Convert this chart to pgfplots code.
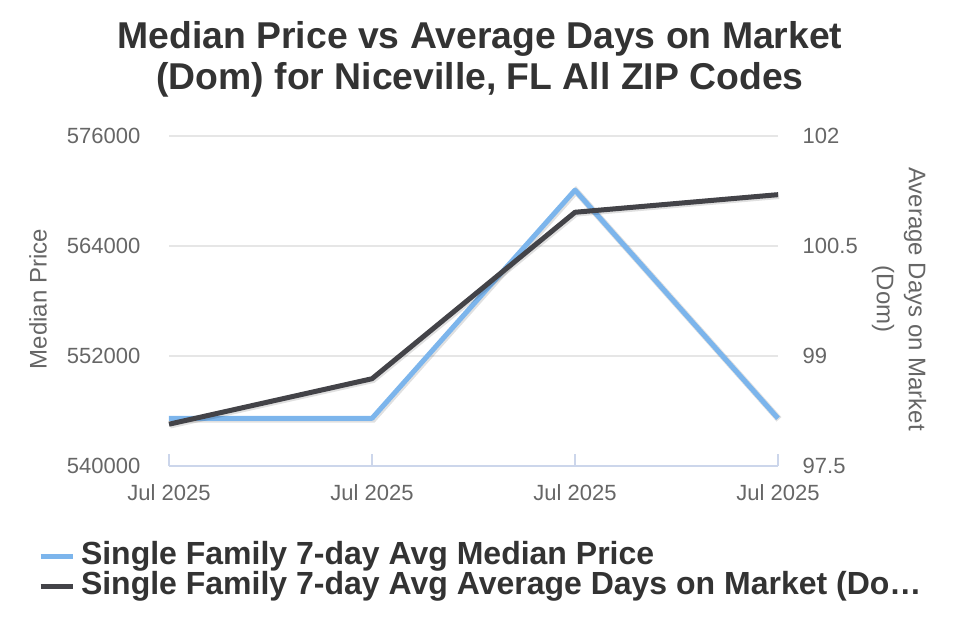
\documentclass[border=0pt]{standalone}
\usepackage{pgfplots}
\pgfplotsset{compat=1.18}
\usepackage{fontspec}
\setmainfont{Liberation Sans}
\definecolor{hcblue}{HTML}{7CB5EC}
\definecolor{hcdark}{HTML}{434348}
\definecolor{hcgrid}{HTML}{E6E6E6}
\definecolor{hcaxis}{HTML}{CCD6EB}
\definecolor{hclabel}{HTML}{666666}
\definecolor{hctitle}{HTML}{333333}
\begin{document}
\begin{tikzpicture}
\path[use as bounding box] (0pt,0pt) rectangle (720pt,480pt);
\pgfplotsset{
  common/.style={
    at={(126.75pt,130.5pt)}, anchor=south west,
    scale only axis, width=456.75pt, height=247.5pt,
    xmin=0, xmax=3,
    xtick={0,1,2,3},
    /pgf/number format/assume math mode=true,
    /pgf/number format/fixed,
    /pgf/number format/precision=1,
    ticklabel style={font=\fontsize{16.5}{19}\selectfont, text=hclabel},
    scaled y ticks=false,
    /pgf/number format/1000 sep={},
    clip=false,
  }
}
\begin{axis}[common,
  ymin=540000, ymax=576000,
  ytick={540000,552000,564000,576000},
  yticklabels={540000,552000,564000,576000},
  ymajorgrids, grid style={hcgrid, line width=1pt},
  axis x line*=bottom, axis y line*=left,
  y axis line style={draw=none},
  x axis line style={hcaxis, line width=1pt},
  xticklabels={Jul 2025,Jul 2025,Jul 2025,Jul 2025},
  xtick style={hcaxis, line width=1pt},
  major tick length=9pt,
  x tick label style={yshift=-10.5pt},
  ytick style={draw=none},
  yticklabel style={xshift=-18pt},
  every axis y label/.style={at={(axis description cs:-0.215,0.506)}, anchor=center, rotate=90, font=\fontsize{18}{20}\selectfont, text=hclabel},
  ylabel={Median Price},
  every axis title/.style={at={(axis description cs:0.5107,1.232)}, anchor=center, align=center, font=\fontsize{28}{30.75}\selectfont\bfseries, text=hctitle},
  title={Median Price vs Average Days on Market\\(Dom) for Niceville, FL All ZIP Codes},
]
\addplot[black, opacity=0.12, line width=5pt, transform canvas={shift={(0.75pt,-0.75pt)}}] coordinates {(0,545200) (1,545200) (2,570100) (3,545200)};
\addplot[hcblue, line width=3.75pt, line join=round] coordinates {(0,545200) (1,545200) (2,570100) (3,545200)};
\end{axis}
\begin{axis}[common,
  ymin=97.5, ymax=102,
  ytick={97.5,99,100.5,102},
  yticklabels={97.5,99,100.5,102},
  axis x line=none, axis y line*=right,
  y axis line style={draw=none},
  ytick style={draw=none},
  yticklabel style={xshift=15pt},
  every axis y label/.style={at={(axis description cs:1.199,0.506)}, anchor=center, rotate=-90, align=center, font=\fontsize{18}{24}\selectfont, text=hclabel},
  ylabel={Average Days on Market\\(Dom)},
  legend style={at={(axis description cs:-0.2151,-0.2364)}, anchor=north west, draw=none, fill=none,
    font=\fontsize{24}{22.5}\selectfont\bfseries, text=hctitle, row sep=0pt, column sep=4.5pt,
    nodes={inner sep=0pt, outer sep=0pt, text height=15pt, text depth=7.5pt},
    inner sep=0pt, outer sep=0pt},
  legend cell align=left,
  legend image code/.code={\draw[#1, line width=3.75pt] (0pt,2.25pt) -- (24pt,2.25pt);},
]
\addlegendimage{hcblue}
\addlegendentry{Single Family 7-day Avg Median Price}
\addplot[black, opacity=0.12, line width=5pt, transform canvas={shift={(0.75pt,-0.75pt)}}, forget plot] coordinates {(0,98.07) (1,98.69) (2,100.96) (3,101.2)};
\addplot[hcdark, line width=3.75pt, line join=round] coordinates {(0,98.07) (1,98.69) (2,100.96) (3,101.2)};
\addlegendentry{Single Family 7-day Avg Average Days on Market (Do…}
\end{axis}
\end{tikzpicture}
\end{document}
